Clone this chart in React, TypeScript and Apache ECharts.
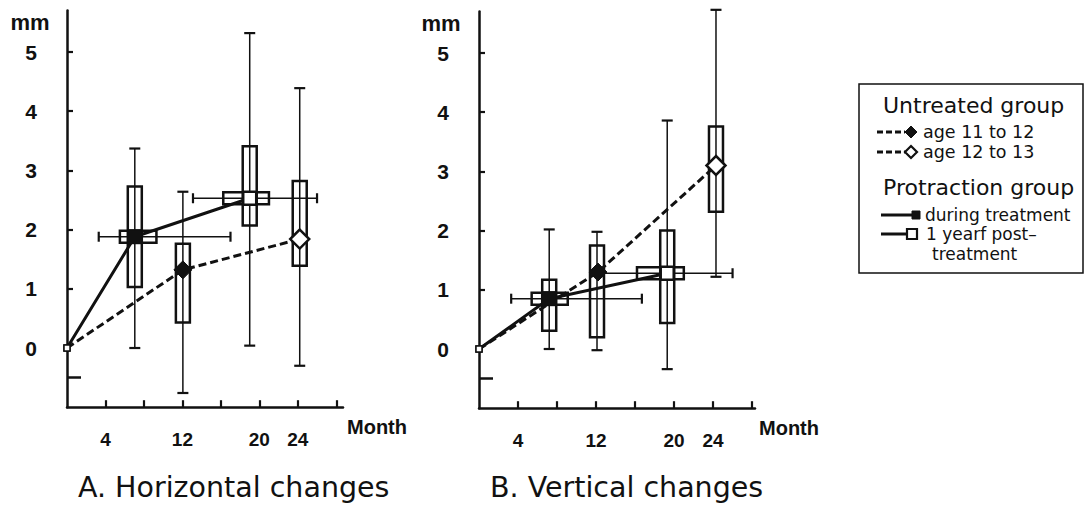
import React, { useEffect, useRef } from "react";
import * as echarts from "echarts";

// ---- axis ticks / labels ----
const xTickValues = [4, 8, 12, 16, 20, 24, 28];
const xLabelValues = [4, 12, 20, 24];
const yLabelValues = [0, 1, 2, 3, 4, 5];
const yTickValues = [1, 2, 3, 4, 5];
const yLongTick = [-0.5];

// ---- A. Horizontal changes ----
// [month, mm]
const protractionH = [[0, 0], [7.05, 1.88], [19.0, 2.53]];
const untreatedH = [[0, 0], [12.05, 1.32], [24.2, 1.84]];
// vertical boxes: [month, whiskerLow, boxLow, boxHigh, whiskerHigh]
const vBoxesH = [
  [7.05, 0.0, 1.03, 2.73, 3.37],
  [12.05, -0.76, 0.43, 1.76, 2.64],
  [19.0, 0.04, 2.07, 3.41, 5.32],
  [24.2, -0.3, 1.39, 2.82, 4.39],
];
// horizontal boxes: [mm, whiskerLow, boxLow, boxHigh, whiskerHigh] (months)
const hBoxesH = [
  [1.88, 3.3, 5.5, 9.3, 17.0],
  [2.53, 13.1, 16.25, 21.0, 26.0],
];

// ---- B. Vertical changes ----
const protractionV = [[0, 0], [7.2, 0.85], [19.3, 1.28]];
const untreatedV = [[0, 0], [12.2, 1.3], [24.3, 3.1]];
const vBoxesV = [
  [7.2, 0.0, 0.31, 1.17, 2.02],
  [12.1, -0.02, 0.2, 1.75, 1.98],
  [19.3, -0.34, 0.44, 2.0, 3.86],
  [24.3, 1.22, 2.32, 3.76, 5.73],
];
const hBoxesV = [
  [0.85, 3.3, 5.4, 9.1, 16.7],
  [1.28, 12.8, 16.2, 21.0, 26.0],
];

const INK = "#111";
const AXIS_FONT = "Liberation Sans";
const TEXT_FONT = "DejaVu Sans";

const protractionMarks = [
  { symbol: "rect", symbolSize: 6, itemStyle: { color: "#fff", borderColor: INK, borderWidth: 1.5 } },
  { symbol: "rect", symbolSize: 14, itemStyle: { color: INK, borderColor: INK, borderWidth: 1 } },
  { symbol: "rect", symbolSize: 13, itemStyle: { color: "#fff", borderColor: INK, borderWidth: 2.5 } },
];
const untreatedMarks = [
  { symbol: "rect", symbolSize: 6, itemStyle: { color: "#fff", borderColor: INK, borderWidth: 1.5 } },
  { symbol: "diamond", symbolSize: 18, itemStyle: { color: INK, borderColor: INK, borderWidth: 1 } },
  { symbol: "diamond", symbolSize: 19, itemStyle: { color: "#fff", borderColor: INK, borderWidth: 2.5 } },
];

function renderVBox(params: any, api: any) {
  const x = api.value(0);
  const wLo = api.coord([x, api.value(1)]);
  const bLo = api.coord([x, api.value(2)]);
  const bHi = api.coord([x, api.value(3)]);
  const wHi = api.coord([x, api.value(4)]);
  const cx = wLo[0];
  const bw = 14;
  const cw = 11;
  return {
    type: "group",
    children: [
      { type: "line", shape: { x1: cx, y1: wLo[1], x2: cx, y2: wHi[1] }, style: { stroke: INK, lineWidth: 1.5 } },
      { type: "line", shape: { x1: cx - cw / 2, y1: wLo[1], x2: cx + cw / 2, y2: wLo[1] }, style: { stroke: INK, lineWidth: 2.2 } },
      { type: "line", shape: { x1: cx - cw / 2, y1: wHi[1], x2: cx + cw / 2, y2: wHi[1] }, style: { stroke: INK, lineWidth: 2.2 } },
      {
        type: "rect",
        shape: { x: cx - bw / 2, y: bHi[1], width: bw, height: bLo[1] - bHi[1] },
        style: { fill: "none", stroke: INK, lineWidth: 2.5 },
      },
    ],
  };
}

function renderHBox(params: any, api: any) {
  const y = api.value(0);
  const wLo = api.coord([api.value(1), y]);
  const bLo = api.coord([api.value(2), y]);
  const bHi = api.coord([api.value(3), y]);
  const wHi = api.coord([api.value(4), y]);
  const cy = wLo[1];
  const bh = 12;
  const ch = 10;
  return {
    type: "group",
    children: [
      { type: "line", shape: { x1: wLo[0], y1: cy, x2: wHi[0], y2: cy }, style: { stroke: INK, lineWidth: 1.5 } },
      { type: "line", shape: { x1: wLo[0], y1: cy - ch / 2, x2: wLo[0], y2: cy + ch / 2 }, style: { stroke: INK, lineWidth: 2.2 } },
      { type: "line", shape: { x1: wHi[0], y1: cy - ch / 2, x2: wHi[0], y2: cy + ch / 2 }, style: { stroke: INK, lineWidth: 2.2 } },
      {
        type: "rect",
        shape: { x: bLo[0], y: cy - bh / 2, width: bHi[0] - bLo[0], height: bh },
        style: { fill: "none", stroke: INK, lineWidth: 2.5 },
      },
    ],
  };
}

function mkXAxis(gridIndex: number, max: number) {
  return {
    type: "value",
    gridIndex,
    min: 0,
    max,
    axisLine: { show: true, onZero: false, lineStyle: { color: INK, width: 2.5 } },
    axisTick: { show: true, inside: true, length: 7, lineStyle: { color: INK, width: 2.2 }, customValues: xTickValues },
    axisLabel: {
      show: true,
      customValues: xLabelValues,
      margin: 23,
      color: INK,
      fontFamily: AXIS_FONT,
      fontWeight: "bold",
      fontSize: 19,
    },
    splitLine: { show: false },
  };
}

function mkYAxes(gridIndex: number) {
  return [
    {
      type: "value",
      gridIndex,
      min: -1,
      max: 5.7,
      position: "left",
      axisLine: { show: true, onZero: false, lineStyle: { color: INK, width: 2.5 } },
      axisTick: { show: true, inside: true, length: 6, lineStyle: { color: INK, width: 2.2 }, customValues: yTickValues },
      axisLabel: {
        show: true,
        customValues: yLabelValues,
        margin: 30,
        color: INK,
        fontFamily: AXIS_FONT,
        fontWeight: "bold",
        fontSize: 21,
      },
      splitLine: { show: false },
    },
    {
      type: "value",
      gridIndex,
      min: -1,
      max: 5.7,
      position: "left",
      axisLine: { show: false, onZero: false },
      axisTick: { show: true, inside: true, length: 14, lineStyle: { color: INK, width: 2.5 }, customValues: yLongTick },
      axisLabel: { show: false },
      splitLine: { show: false },
    },
  ];
}

function lineData(pts: number[][], marks: any[]) {
  return pts.map((p, i) => ({ value: p, ...marks[i] }));
}

function legendGraphics() {
  const items: any[] = [];
  const txt = (text: string, x: number, y: number, size: number) => ({
    type: "text",
    x,
    y,
    style: { text, fill: INK, fontFamily: TEXT_FONT, fontSize: size, textAlign: "left", textVerticalAlign: "middle" },
  });
  items.push({ type: "rect", shape: { x: 859, y: 84, width: 224, height: 189 }, style: { fill: "#fff", stroke: INK, lineWidth: 1.5 } });
  items.push(txt("Untreated group", 883, 105, 22));
  const dashRow = (y: number, filled: boolean, label: string) => {
    items.push({ type: "line", shape: { x1: 877, y1: y, x2: 905, y2: y }, style: { stroke: INK, lineWidth: 3, lineDash: [6, 3] } });
    items.push({
      type: "polygon",
      shape: { points: [[911, y - 6], [917, y], [911, y + 6], [905, y]] },
      style: { fill: filled ? INK : "#fff", stroke: INK, lineWidth: filled ? 1 : 2.2 },
    });
    items.push(txt(label, 923, y, 17.5));
  };
  dashRow(132, true, "age 11 to 12");
  dashRow(152, false, "age 12 to 13");
  items.push(txt("Protraction group", 883, 187, 22));
  items.push({ type: "line", shape: { x1: 881, y1: 215, x2: 912, y2: 215 }, style: { stroke: INK, lineWidth: 3 } });
  items.push({ type: "rect", shape: { x: 912, y: 211, width: 8, height: 8 }, style: { fill: INK, stroke: INK, lineWidth: 1 } });
  items.push(txt("during treatment", 925, 215, 17));
  items.push({ type: "line", shape: { x1: 881, y1: 234, x2: 907, y2: 234 }, style: { stroke: INK, lineWidth: 3 } });
  items.push({ type: "rect", shape: { x: 907, y: 229, width: 10, height: 10 }, style: { fill: "#fff", stroke: INK, lineWidth: 2.2 } });
  items.push(txt("1 yearf post\u2013", 926, 234, 17));
  items.push(txt("treatment", 932, 254, 17));
  return items;
}

function textEl(text: string, x: number, y: number, size: number, weight: string, family: string, align = "center") {
  return {
    type: "text",
    x,
    y,
    style: { text, fill: INK, fontFamily: family, fontSize: size, fontWeight: weight, textAlign: align, textVerticalAlign: "middle" },
  };
}

export default function App() {
  const ref = useRef<HTMLDivElement>(null);
  useEffect(() => {
    if (!ref.current) return;
    const chart = echarts.init(ref.current, null, { renderer: "svg" });
    const [y0, y0b] = mkYAxes(0);
    const [y1, y1b] = mkYAxes(1);
    const option: any = {
      animation: false,
      backgroundColor: "#fff",
      grid: [
        { left: 67, top: 10.6, width: 276, height: 396.6 },
        { left: 479, top: 11.6, width: 276, height: 396.6 },
      ],
      xAxis: [mkXAxis(0, 28.7), mkXAxis(1, 28.3)],
      yAxis: [y0, y0b, y1, y1b],
      series: [
        { type: "custom", xAxisIndex: 0, yAxisIndex: 0, renderItem: renderVBox, data: vBoxesH, encode: { x: 0, y: [1, 2, 3, 4] }, z: 2, silent: true },
        { type: "custom", xAxisIndex: 0, yAxisIndex: 0, renderItem: renderHBox, data: hBoxesH, encode: { x: [1, 2, 3, 4], y: 0 }, z: 2, silent: true },
        { type: "custom", xAxisIndex: 1, yAxisIndex: 2, renderItem: renderVBox, data: vBoxesV, encode: { x: 0, y: [1, 2, 3, 4] }, z: 2, silent: true },
        { type: "custom", xAxisIndex: 1, yAxisIndex: 2, renderItem: renderHBox, data: hBoxesV, encode: { x: [1, 2, 3, 4], y: 0 }, z: 2, silent: true },
        {
          type: "line", xAxisIndex: 0, yAxisIndex: 0, z: 4,
          data: lineData(untreatedH, untreatedMarks),
          lineStyle: { color: INK, width: 3, type: [8, 4] },
        },
        {
          type: "line", xAxisIndex: 0, yAxisIndex: 0, z: 5,
          data: lineData(protractionH, protractionMarks),
          lineStyle: { color: INK, width: 3, type: "solid" },
        },
        {
          type: "line", xAxisIndex: 1, yAxisIndex: 2, z: 4,
          data: lineData(untreatedV, untreatedMarks),
          lineStyle: { color: INK, width: 3, type: [8, 4] },
        },
        {
          type: "line", xAxisIndex: 1, yAxisIndex: 2, z: 5,
          data: lineData(protractionV, protractionMarks),
          lineStyle: { color: INK, width: 3, type: "solid" },
        },
      ],
      graphic: [
        textEl("mm", 30, 22, 22, "bold", AXIS_FONT),
        textEl("mm", 441, 23, 22, "bold", AXIS_FONT),
        textEl("Month", 347, 427, 20, "bold", AXIS_FONT, "left"),
        textEl("Month", 759, 428, 20, "bold", AXIS_FONT, "left"),
        textEl("A. Horizontal changes", 78, 487, 28.5, "normal", TEXT_FONT, "left"),
        textEl("B. Vertical changes", 490, 487, 28.5, "normal", TEXT_FONT, "left"),
        ...legendGraphics(),
      ],
    };
    chart.setOption(option);
    return () => chart.dispose();
  }, []);
  return <div ref={ref} style={{ position: "fixed", left: 0, top: 0, width: 1089, height: 510 }} />;
}
